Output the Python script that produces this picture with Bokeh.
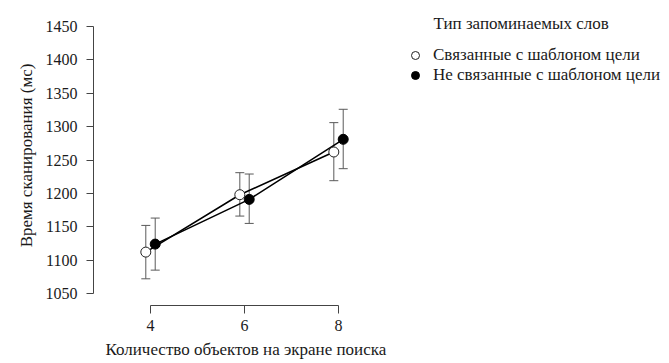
from bokeh.plotting import figure
from bokeh.models import ColumnDataSource, Whisker, Legend, LegendItem, Label, FixedTicker, TeeHead, Title
from bokeh.embed import file_html
from bokeh.resources import INLINE

# Data
set_sizes = [4, 6, 8]
related_mean = [1112, 1198, 1262]
related_lo = [1072, 1166, 1219]
related_hi = [1152, 1231, 1306]
unrelated_mean = [1124, 1191, 1281]
unrelated_lo = [1085, 1155, 1237]
unrelated_hi = [1163, 1229, 1326]
y_ticks = [1050, 1100, 1150, 1200, 1250, 1300, 1350, 1400, 1450]
x_ticks = [4, 6, 8]
dodge = 0.1

FONT = "Liberation Serif"
TXT = "#1a1a1a"

p = figure(width=669, height=363, output_backend="svg", toolbar_location=None,
           x_range=(2.787, 15.042), y_range=(1032.0, 1481.5),
           min_border_left=93, min_border_right=0, min_border_top=5, min_border_bottom=58)
p.outline_line_color = None
p.xgrid.grid_line_color = None
p.ygrid.grid_line_color = None

src_r = ColumnDataSource(dict(x=[s - dodge for s in set_sizes], y=related_mean, lo=related_lo, hi=related_hi))
src_u = ColumnDataSource(dict(x=[s + dodge for s in set_sizes], y=unrelated_mean, lo=unrelated_lo, hi=unrelated_hi))

for src in (src_r, src_u):
    w = Whisker(source=src, base="x", upper="hi", lower="lo", line_color="#5a5a5a", line_width=1,
                upper_head=TeeHead(size=9, line_color="#5a5a5a", line_width=1),
                lower_head=TeeHead(size=9, line_color="#5a5a5a", line_width=1))
    p.add_layout(w)

p.line("x", "y", source=src_r, line_color="black", line_width=1.6)
p.line("x", "y", source=src_u, line_color="black", line_width=1.6)
rr = p.scatter("x", "y", source=src_r, size=10, marker="circle", fill_color="white", line_color="#222222", line_width=1)
ru = p.scatter("x", "y", source=src_u, size=10, marker="circle", fill_color="black", line_color="black", line_width=1)

legend = Legend(items=[LegendItem(label="Связанные с шаблоном цели", renderers=[rr]),
                       LegendItem(label="Не связанные с шаблоном цели", renderers=[ru])],
                location=(312, 220), padding=0, margin=0, spacing=0,
                glyph_width=20, glyph_height=20, label_height=20, label_standoff=8,
                border_line_color=None, background_fill_alpha=0,
                label_text_font=FONT, label_text_font_size="17px", label_text_color=TXT)
p.add_layout(legend)

p.add_layout(Label(x=340, y=282, x_units="screen", y_units="screen", text="Тип запоминаемых  слов",
                   text_font=FONT, text_font_size="17px", text_color=TXT, text_baseline="middle"))

# axes
p.yaxis.bounds = (y_ticks[0], y_ticks[-1])
p.xaxis.bounds = (x_ticks[0], x_ticks[-1])
p.yaxis.ticker = FixedTicker(ticks=y_ticks)
p.xaxis.ticker = FixedTicker(ticks=x_ticks)
for ax in (p.xaxis[0], p.yaxis[0]):
    ax.minor_tick_line_color = None
    ax.axis_line_color = "#444444"
    ax.major_tick_line_color = "#444444"
    ax.major_tick_in = 0
    ax.major_label_text_font = FONT
    ax.major_label_text_font_size = "16px"
    ax.major_label_text_color = TXT
p.yaxis.major_tick_out = 7
p.xaxis.major_tick_out = 8
p.yaxis.major_label_standoff = 9
p.xaxis.major_label_standoff = 6

# axis titles as side titles so they can be aligned like the reference
xt = Title(text="Количество объектов на экране поиска", align="left", offset=12, standoff=9,
           text_font=FONT, text_font_size="17px", text_font_style="normal", text_color=TXT)
yt = Title(text="Время сканирования (мс)", align="center", offset=11, standoff=14,
           text_font=FONT, text_font_size="17px", text_font_style="normal", text_color=TXT)
p.add_layout(xt, "below")
p.add_layout(yt, "left")

open("out.html", "w").write(file_html(p, INLINE))
